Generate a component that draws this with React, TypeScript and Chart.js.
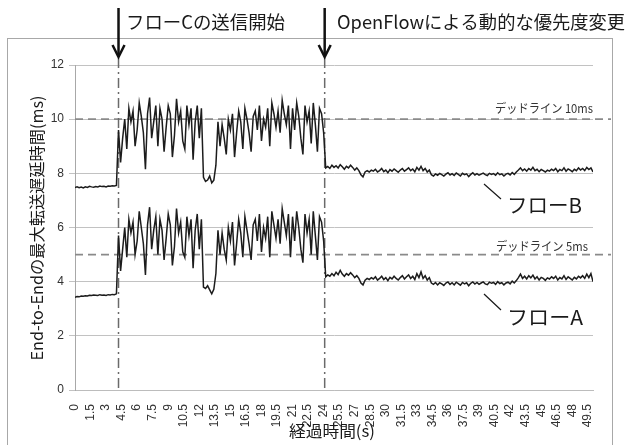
import React, { useEffect, useRef } from "react";
import { Chart, registerables } from "chart.js";

Chart.register(...registerables);

// ---- sampling grid (seconds) ----
const TIME_STEP = 0.2;
const TIMES: number[] = Array.from({ length: 251 }, (_, i) => Math.round(i * TIME_STEP * 10) / 10);

const X_TICKS = [0, 1.5, 3, 4.5, 6, 7.5, 9, 10.5, 12, 13.5, 15, 16.5, 18, 19.5, 21, 22.5, 24, 25.5, 27, 28.5, 30, 31.5, 33, 34.5, 36, 37.5, 39, 40.5, 42, 43.5, 45, 46.5, 48, 49.5];
const Y_MIN = 0;
const Y_MAX = 12;
const Y_STEP = 2;

const X_TITLE = "経過時間(s)";
const Y_TITLE = "End-to-Endの最大転送遅延時間(ms)";

const EVENT_TIMES = [4.2, 24.1];
const EVENT_LABELS = ["フローCの送信開始", "OpenFlowによる動的な優先度変更"];

const DEADLINES = [10, 5];
const DEADLINE_LABELS = ["デッドライン 10ms", "デッドライン 5ms"];

const FLOW_NAMES = ["フローA", "フローB"];

// ---- Flow B (upper) ----
const B_BEFORE = [7.48, 7.5, 7.47, 7.49, 7.46, 7.5, 7.48, 7.52, 7.5, 7.49, 7.51, 7.5, 7.53, 7.51, 7.52, 7.5, 7.53, 7.52, 7.54, 7.53, 7.55];
const B_CONGESTED_1 = [9.6, 8.4, 9.3, 10.0, 8.9, 10.4, 9.9, 10.3, 9.0, 9.6, 10.6, 10.1, 9.5, 8.15, 10.2, 10.8, 9.3, 9.9, 10.5, 9.0, 10.4, 10.0, 8.8, 9.7, 10.5, 10.2, 8.6, 9.4, 10.75, 9.9, 10.3, 9.2, 8.9, 10.5, 9.8, 10.4, 8.5, 9.9, 10.5, 9.3, 10.4];
const B_DIP = [7.85, 7.7, 7.75, 7.9, 7.65, 7.75, 8.3, 9.9];
const B_CONGESTED_2 = [9.0, 9.8, 9.3, 8.7, 10.0, 9.6, 10.2, 8.6, 9.5, 10.3, 9.9, 8.9, 10.4, 10.0, 9.5, 8.8, 10.1, 10.3, 9.6, 10.5, 9.2, 10.0, 9.7, 10.4, 9.0, 10.6, 10.2, 9.7, 10.3, 9.5, 10.7, 10.2, 9.8, 10.5, 8.9, 10.4, 9.6, 10.6, 10.1, 9.3, 8.7, 10.5, 9.9, 10.3, 9.1, 10.6, 9.8, 8.8, 10.4, 10.2, 9.5];
const B_AFTER_1 = [8.2, 8.25, 8.18, 8.3, 8.22, 8.28, 8.2, 8.32, 8.24, 8.15, 8.26, 8.2, 8.3, 8.22, 8.12, 8.2, 8.1];
const B_AFTER_2 = [7.95, 7.87, 8.05, 8.1];
const B_AFTER_3 = [8.05, 8.12, 8.08, 8.15, 8.05, 8.1, 8.18, 8.06, 8.12, 8.02, 8.14, 8.08, 8.16, 8.1, 8.04, 8.12, 8.18, 8.08, 8.14, 8.2, 8.1, 8.16, 8.06, 8.22, 8.12, 8.26, 8.1, 8.18, 8.05, 8.12];
const B_AFTER_4 = [7.95, 7.9, 7.98, 7.93, 8.0, 7.95, 7.9, 7.97, 8.02, 7.94, 7.99, 7.92, 8.01, 7.96, 7.9, 8.0, 7.95, 7.98, 7.88, 7.96, 8.02, 7.94, 7.99, 7.93, 7.97, 8.01, 7.95, 7.92, 8.0, 7.96, 7.99, 7.93, 8.02, 7.95, 7.98, 7.9, 7.97, 8.0, 7.94, 8.03, 7.96, 8.05];
const B_AFTER_5 = [8.12, 8.2, 8.1, 8.16, 8.08, 8.18, 8.12, 8.22, 8.1, 8.15, 8.06, 8.14, 8.1, 8.05, 8.12, 8.08, 8.15, 8.1, 8.18, 8.06, 8.14, 8.1, 8.2, 8.08, 8.16, 8.12, 8.06, 8.15, 8.1, 8.2, 8.12, 8.18, 8.1, 8.22, 8.14, 8.2, 8.05];

// ---- Flow A (lower) ----
const A_BEFORE = [3.42, 3.45, 3.44, 3.47, 3.46, 3.48, 3.47, 3.5, 3.49, 3.51, 3.5, 3.49, 3.52, 3.5, 3.51, 3.49, 3.52, 3.51, 3.53, 3.52, 3.55];
const A_CONGESTED_1 = [5.7, 4.4, 5.2, 6.0, 4.9, 6.3, 5.8, 6.2, 5.0, 5.5, 6.6, 6.0, 5.4, 4.25, 6.1, 6.75, 5.2, 5.9, 6.4, 5.0, 6.3, 5.9, 4.8, 5.6, 6.5, 6.1, 4.6, 5.3, 6.7, 5.8, 6.2, 5.1, 4.9, 6.4, 5.7, 6.3, 4.5, 5.9, 6.5, 5.2, 6.3];
const A_DIP = [3.8, 3.75, 3.85, 3.7, 3.55, 3.72, 4.3, 5.9];
const A_CONGESTED_2 = [5.0, 5.8, 5.2, 4.8, 6.0, 5.5, 6.2, 4.6, 5.4, 6.3, 5.8, 4.9, 6.4, 5.9, 5.4, 4.8, 6.1, 6.3, 5.5, 6.5, 5.1, 6.0, 5.6, 6.4, 4.9, 6.6, 6.1, 5.6, 6.3, 5.4, 6.7, 6.2, 5.7, 6.5, 4.9, 6.4, 5.5, 6.6, 6.0, 5.2, 4.7, 6.5, 5.8, 6.3, 5.0, 6.6, 5.7, 4.8, 6.4, 6.2, 5.5];
const A_AFTER_1 = [4.18, 4.25, 4.2, 4.3, 4.22, 4.35, 4.26, 4.42, 4.28, 4.2, 4.3, 4.24, 4.33, 4.25, 4.15, 4.22, 4.12];
const A_AFTER_2 = [3.95, 3.88, 4.05, 4.12];
const A_AFTER_3 = [4.08, 4.15, 4.1, 4.18, 4.06, 4.12, 4.2, 4.08, 4.15, 4.04, 4.16, 4.1, 4.2, 4.12, 4.06, 4.15, 4.22, 4.1, 4.18, 4.25, 4.12, 4.2, 4.08, 4.3, 4.15, 4.36, 4.12, 4.22, 4.06, 4.15];
const A_AFTER_4 = [3.95, 3.9, 3.97, 3.88, 3.96, 3.92, 3.86, 3.95, 3.99, 3.9, 3.96, 3.88, 3.98, 3.93, 3.87, 3.97, 3.92, 3.96, 3.85, 3.94, 3.99, 3.91, 3.97, 3.9, 3.95, 3.99, 3.92, 3.89, 3.98, 3.94, 3.97, 3.9, 4.0, 3.93, 3.96, 3.88, 3.95, 3.98, 3.92, 4.02, 3.95, 4.04];
const A_AFTER_5 = [4.15, 4.28, 4.12, 4.2, 4.1, 4.22, 4.14, 4.24, 4.1, 4.18, 4.06, 4.16, 4.12, 4.05, 4.14, 4.1, 4.18, 4.12, 4.2, 4.06, 4.15, 4.1, 4.22, 4.08, 4.18, 4.12, 4.06, 4.16, 4.1, 4.2, 4.14, 4.22, 4.12, 4.28, 4.15, 4.3, 4.0];

const FLOW_B = [...B_BEFORE, ...B_CONGESTED_1, ...B_DIP, ...B_CONGESTED_2, ...B_AFTER_1, ...B_AFTER_2, ...B_AFTER_3, ...B_AFTER_4, ...B_AFTER_5];
const FLOW_A = [...A_BEFORE, ...A_CONGESTED_1, ...A_DIP, ...A_CONGESTED_2, ...A_AFTER_1, ...A_AFTER_2, ...A_AFTER_3, ...A_AFTER_4, ...A_AFTER_5];

const JP = '"Noto Sans CJK JP", "Noto Sans", sans-serif';
const NUM = '"Liberation Sans", Arial, sans-serif';

function fitText(
  ctx: CanvasRenderingContext2D,
  text: string,
  x: number,
  y: number,
  width: number,
  font: string,
  align: "left" | "right" | "center",
  rotate = 0,
  color = "#1a1a1a"
) {
  ctx.save();
  ctx.font = font;
  ctx.fillStyle = color;
  const w = ctx.measureText(text).width;
  const s = width / w;
  ctx.textBaseline = "middle";
  ctx.textAlign = "center";
  ctx.translate(x, y);
  if (rotate) ctx.rotate(rotate);
  const cx = align === "left" ? width / 2 : align === "right" ? -width / 2 : 0;
  ctx.translate(cx, 0);
  ctx.scale(s, 1);
  ctx.fillText(text, 0, 0);
  ctx.restore();
}

const annotationPlugin = {
  id: "annotations",
  beforeDatasetsDraw(chart: any) {
    const { ctx, chartArea, scales } = chart;
    const x = scales.x;
    const y = scales.y;
    ctx.save();
    ctx.strokeStyle = "#8a8a8a";
    ctx.lineWidth = 1.6;
    ctx.setLineDash([8, 5]);
    DEADLINES.forEach((v) => {
      const py = y.getPixelForValue(v);
      ctx.beginPath();
      ctx.moveTo(chartArea.left, py);
      ctx.lineTo(611, py);
      ctx.stroke();
    });
    ctx.strokeStyle = "#6a6a6a";
    ctx.lineWidth = 1.5;
    ctx.setLineDash([10, 4, 2, 4]);
    EVENT_TIMES.forEach((t) => {
      const px = x.getPixelForValue(t);
      ctx.beginPath();
      ctx.moveTo(px, 58);
      ctx.lineTo(px, chartArea.bottom);
      ctx.stroke();
    });
    ctx.restore();
  },
  afterDraw(chart: any) {
    const { ctx, scales } = chart;
    const x = scales.x;
    ctx.save();
    // outer frame
    ctx.strokeStyle = "#a8a8a8";
    ctx.lineWidth = 1;
    ctx.strokeRect(7.5, 38.5, 605, 430);

    // arrows above event lines
    ctx.strokeStyle = "#111";
    ctx.lineWidth = 2.5;
    EVENT_TIMES.forEach((t) => {
      const px = x.getPixelForValue(t);
      ctx.beginPath();
      ctx.moveTo(px, 8);
      ctx.lineTo(px, 55);
      ctx.stroke();
      ctx.beginPath();
      ctx.moveTo(px - 6, 45);
      ctx.lineTo(px, 57);
      ctx.lineTo(px + 6, 45);
      ctx.stroke();
    });
    ctx.restore();

    fitText(ctx, EVENT_LABELS[0], 126, 22, 159, `18px ${JP}`, "left");
    fitText(ctx, EVENT_LABELS[1], 337, 22, 288, `18px ${JP}`, "left");

    fitText(ctx, DEADLINE_LABELS[0], 593, 108, 98, `12px ${JP}`, "right", 0, "#333");
    fitText(ctx, DEADLINE_LABELS[1], 588, 246, 92, `12px ${JP}`, "right", 0, "#333");

    // flow labels with leader lines
    ctx.save();
    ctx.strokeStyle = "#1a1a1a";
    ctx.lineWidth = 1.2;
    ctx.beginPath();
    ctx.moveTo(484, 184);
    ctx.lineTo(501, 199);
    ctx.moveTo(484, 294);
    ctx.lineTo(501, 310);
    ctx.stroke();
    ctx.restore();
    fitText(ctx, FLOW_NAMES[1], 507, 205, 75, `20px ${JP}`, "left");
    fitText(ctx, FLOW_NAMES[0], 507, 317, 76, `20px ${JP}`, "left");

    // axis titles
    fitText(ctx, Y_TITLE, 36.5, 228, 265, `16px ${JP}`, "center", -Math.PI / 2);
    fitText(ctx, X_TITLE, 332, 431, 86, `16px ${JP}`, "center");
  },
};

export default function App() {
  const canvasRef = useRef<HTMLCanvasElement | null>(null);

  useEffect(() => {
    const canvas = canvasRef.current;
    if (!canvas) return;
    const chart = new Chart(canvas, {
      type: "line",
      data: {
        labels: TIMES,
        datasets: [
          {
            label: FLOW_NAMES[1],
            data: FLOW_B,
            borderColor: "#1c1c1c",
            borderWidth: 1.5,
            pointRadius: 0,
            tension: 0,
            fill: false,
          },
          {
            label: FLOW_NAMES[0],
            data: FLOW_A,
            borderColor: "#1c1c1c",
            borderWidth: 1.5,
            pointRadius: 0,
            tension: 0,
            fill: false,
          },
        ],
      },
      options: {
        responsive: false,
        animation: false,
        events: [],
        layout: { padding: { top: 65, right: 34, left: 0, bottom: 0 } },
        plugins: {
          legend: { display: false },
          tooltip: { enabled: false },
          title: { display: false },
        },
        scales: {
          x: {
            type: "linear",
            min: 0,
            max: 50,
            afterBuildTicks: (scale: any) => {
              scale.ticks = X_TICKS.map((v) => ({ value: v }));
            },
            afterFit: (scale: any) => {
              scale.height = 55;
            },
            grid: { display: false },
            border: { display: true, color: "#bcbcbc", width: 1 },
            ticks: {
              autoSkip: false,
              minRotation: 90,
              maxRotation: 90,
              padding: 6,
              color: "#333",
              font: { family: NUM, size: 12 },
              callback: (v: any) => String(v),
            },
          },
          y: {
            min: Y_MIN,
            max: Y_MAX,
            afterFit: (scale: any) => {
              scale.width = 75;
            },
            grid: { color: "#c2c2c2", lineWidth: 1, tickLength: 6 },
            border: { display: true, color: "#a8a8a8", width: 1 },
            ticks: {
              stepSize: Y_STEP,
              padding: 5,
              color: "#333",
              font: { family: NUM, size: 12 },
            },
          },
        },
      },
      plugins: [annotationPlugin],
    } as any);
    return () => chart.destroy();
  }, []);

  return (
    <canvas
      ref={canvasRef}
      width={627}
      height={445}
      style={{ position: "absolute", left: 0, top: 0, width: 627, height: 445, background: "#fff" }}
    />
  );
}
